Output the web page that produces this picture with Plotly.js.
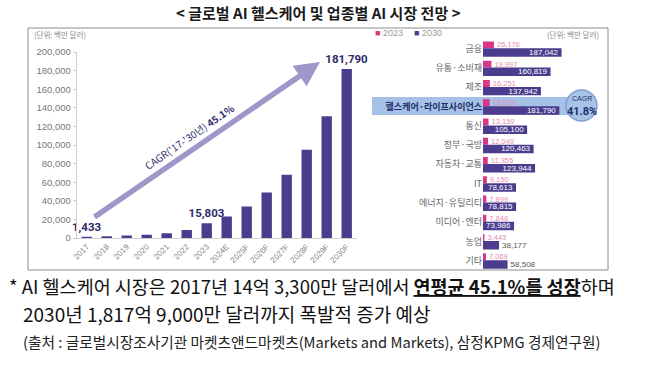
<!DOCTYPE html>
<html><head><meta charset="utf-8">
<script src="https://cdn.plot.ly/plotly-3.0.1.min.js"></script>
<style>html,body{margin:0;padding:0;background:#fff}#chart{width:658px;height:367px}</style>
</head><body><div id="chart"></div>
<script>
// ---- Left chart: global AI healthcare market (million USD) ----
const years = ['2017','2018','2019','2020','2021','2022','2023','2024E','2025F','2026F','2027F','2028F','2029F','2030F'];
const marketValues = [1433, 2000, 2700, 3600, 5000, 8500, 15803, 23000, 34000, 49000, 68000, 95000, 131000, 181790];
const labeledYears = ['2017','2023','2030F'];
const yTicks = [0,20000,40000,60000,80000,100000,120000,140000,160000,180000,200000];

// ---- Right chart: AI market by industry ----
const seriesNames = ['2023','2030'];
const industries = ['금융','유통·소비재','제조','헬스케어·라이프사이언스','통신','정부·국방','자동차·교통','IT','에너지·유틸리티','미디어·엔터','농업','기타'];
const values2023 = [26176,19997,16251,15803,13159,12049,11355,9150,7899,7848,3443,7069];
const values2030 = [187042,160819,137942,181790,105100,120463,123944,78613,78815,73986,38177,58508];
const highlightIndustry = '헬스케어·라이프사이언스';

const W = 658, H = 367;
const px = v => v / W;
const py = v => (H - v) / H;
const fmt = v => v.toLocaleString('en-US');
const KR = 'Noto Sans CJK KR, Liberation Sans, sans-serif';
const NUM = 'Liberation Sans, Arial, sans-serif';
const PINK = '#dc3585', PURPLE = '#4c3c8e', NAVY = '#2c2a6a';

const traces = [
  {
    type: 'bar', x: years, y: marketValues, xaxis: 'x', yaxis: 'y',
    width: 0.52, marker: {color: PURPLE},
    text: years.map((y, i) => labeledYears.includes(y) ? fmt(marketValues[i]) : ''),
    textposition: 'outside', cliponaxis: false, constraintext: 'none',
    textfont: {family: 'Roboto, ' + NUM, size: 11.5, color: NAVY, weight: 'bold'},
    hoverinfo: 'x+y', showlegend: false
  },
  {
    type: 'bar', orientation: 'h', name: seriesNames[0], y: industries, x: values2023,
    xaxis: 'x2', yaxis: 'y2', offset: -0.38, width: 0.36, marker: {color: PINK},
    text: values2023.map(fmt), textposition: 'outside', cliponaxis: false, constraintext: 'none',
    textfont: {family: NUM, size: 7.5, color: '#e58db4'}, showlegend: false
  },
  {
    type: 'bar', orientation: 'h', name: seriesNames[1], y: industries, x: values2030,
    xaxis: 'x2', yaxis: 'y2', offset: -0.02, width: 0.44, marker: {color: PURPLE},
    text: values2030.map(fmt),
    textposition: values2030.map(v => v >= 70000 ? 'inside' : 'outside'),
    insidetextanchor: 'end', cliponaxis: false, constraintext: 'none',
    textfont: {family: NUM, size: 8, color: values2030.map(v => v >= 70000 ? '#ffffff' : '#555555')},
    showlegend: false
  }
];

function note(text, x, y, font, extra) {
  return Object.assign({text: text, xref: 'paper', yref: 'paper', x: px(x), y: py(y),
    xanchor: 'center', yanchor: 'middle', showarrow: false, font: font}, extra || {});
}

const layout = {
  width: W, height: H, margin: {l: 0, r: 0, t: 0, b: 0},
  paper_bgcolor: '#fff', plot_bgcolor: 'rgba(0,0,0,0)',
  barmode: 'overlay', showlegend: false,
  font: {family: KR, color: '#555'},
  xaxis: {
    domain: [px(76.7), px(356.7)], anchor: 'y', type: 'category',
    tickangle: -45, tickfont: {family: NUM, size: 8, color: '#888'},
    showline: true, linecolor: '#cfcfcf', ticks: '', showgrid: false, fixedrange: true
  },
  yaxis: {
    domain: [py(238), py(52)], anchor: 'x', range: [0, 200000],
    tickvals: yTicks, ticktext: yTicks.map(fmt),
    tickfont: {family: NUM, size: 9.5, color: '#777'},
    ticks: 'outside', ticklen: 3, tickcolor: '#cfcfcf',
    showline: true, linecolor: '#cfcfcf', showgrid: false, zeroline: false, fixedrange: true
  },
  xaxis2: {
    domain: [px(483), px(588)], anchor: 'y2', range: [0, 250000], visible: false, fixedrange: true
  },
  yaxis2: {
    domain: [py(270.3), py(39.1)], anchor: 'x2', type: 'category',
    range: [industries.length - 0.5, -0.5],
    tickvals: industries,
    ticktext: industries.map(c => c === highlightIndustry ? '<span style="color:#1f2d6b"><b>' + c + '</b></span>' : c),
    tickfont: {family: KR, size: 9, color: '#666'},
    ticks: '', showline: false, showgrid: false, zeroline: false, fixedrange: true
  },
  shapes: [
    {type: 'rect', xref: 'paper', yref: 'paper', x0: px(28), x1: px(608), y0: py(270), y1: py(28),
     line: {color: '#8c8c8c', width: 1}, layer: 'below'},
    {type: 'rect', xref: 'paper', yref: 'paper', x0: px(372), x1: px(572), y0: py(115), y1: py(97),
     fillcolor: '#a6c1e6', line: {width: 0}, layer: 'below'},
    {type: 'circle', xref: 'paper', yref: 'paper', x0: px(566), x1: px(597), y0: py(121), y1: py(90),
     fillcolor: '#a9c3e8', line: {color: '#7fa0d3', width: 1.5}, layer: 'below'}
  ],
  annotations: [
    note('&lt; 글로벌 AI 헬스케어 및 업종별 AI 시장 전망 &gt;', 318, 13,
         {family: KR, size: 15, color: '#1a1a1a', weight: 'bold'}),
    note('(단위: 백만 달러)', 32, 35, {family: KR, size: 7.5, color: '#8a8a8a'}, {xanchor: 'left'}),
    note('(단위: 백만 달러)', 601, 34, {family: KR, size: 7.5, color: '#8a8a8a'}, {xanchor: 'right'}),
    note('<span style="color:' + PINK + '">■</span> ' + seriesNames[0], 373, 33,
         {family: NUM, size: 9, color: '#999'}, {xanchor: 'left'}),
    note('<span style="color:' + PURPLE + '">■</span> ' + seriesNames[1], 412, 33,
         {family: NUM, size: 9, color: '#999'}, {xanchor: 'left'}),
    {text: '', xref: 'paper', yref: 'paper', x: px(320), y: py(62), ax: -227, ay: 156,
     showarrow: true, arrowhead: 2, arrowsize: 0.9, arrowwidth: 5.5, arrowcolor: '#a096c9', standoff: 0},
    note('CAGR(\'17-\'30년) <b>45.1%</b>', 189, 136, {family: KR, size: 10, color: '#35316f'},
         {textangle: -34.6}),
    note('CAGR', 581.5, 98.5, {family: NUM, size: 7, color: '#1f2d6b'}, {height: 9}),
    note('<b>41.8%</b>', 581.5, 111, {family: 'Roboto, ' + NUM, size: 11, color: '#1f2d6b'}, {height: 13}),
    note('* AI 헬스케어 시장은 2017년 14억 3,300만 달러에서 <b><u>연평균 45.1%를 성장</u></b>하며',
         7, 286, {family: KR, size: 18.5, color: '#111'}, {xanchor: 'left'}),
    note('2030년 1,817억 9,000만 달러까지 폭발적 증가 예상',
         21, 313, {family: KR, size: 19, color: '#111'}, {xanchor: 'left'}),
    note('(출처 : 글로벌시장조사기관 마켓츠앤드마켓츠(Markets and Markets), 삼정KPMG 경제연구원)',
         21, 341, {family: KR, size: 14.7, color: '#222'}, {xanchor: 'left'})
  ]
};

Plotly.newPlot('chart', traces, layout, {displayModeBar: false, staticPlot: true});
</script>
</body></html>
